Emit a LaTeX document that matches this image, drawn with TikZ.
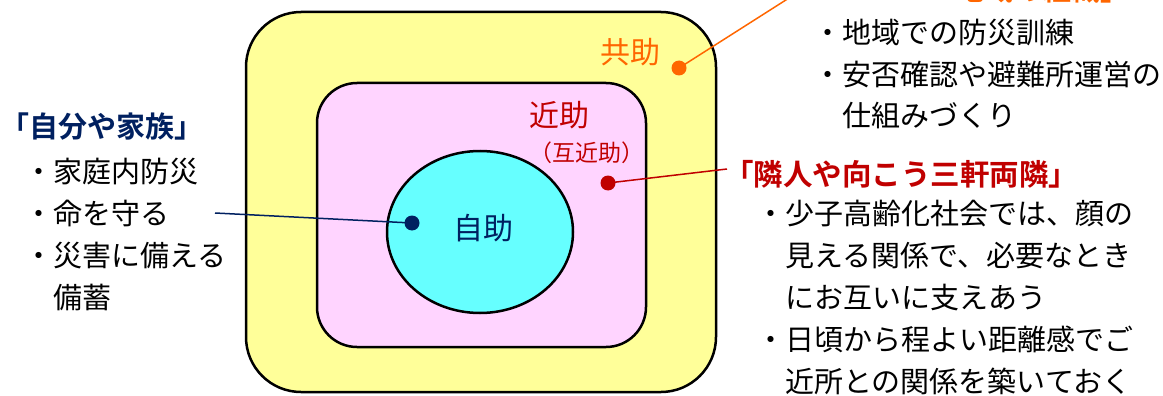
\documentclass[tikz,border=0pt]{standalone}
\usepackage{fontspec}
\setmainfont{Noto Sans CJK JP}[BoldFont={Noto Sans CJK JP Bold}]
\definecolor{kyoyellow}{RGB}{255,255,153}
\definecolor{kinpink}{RGB}{255,212,255}
\definecolor{jicyan}{RGB}{102,255,255}
\definecolor{jinavy}{RGB}{0,32,96}
\definecolor{kinred}{RGB}{192,0,0}
\definecolor{kyoorange}{RGB}{255,102,0}
\tikzset{
    txt/.style = {font=\fontsize{29}{42}\selectfont, inner sep=0pt, align=left, anchor=base west},
    head/.style = {txt, font=\bfseries\fontsize{29}{42}\selectfont},
    label/.style = {font=\fontsize{30}{36}\selectfont, inner sep=0pt},
    dot/.style = {circle, inner sep=0pt, minimum size=15pt},
}
\begin{document}
\begin{tikzpicture}[x = 1pt, y = -1pt]
    \useasboundingbox (0,0) rectangle (1163,396);
    % the three areas
    \draw [line width=2.5pt, fill=kyoyellow, rounded corners=55pt] (246,12) rectangle (716,392);
    \draw [line width=2.5pt, fill=kinpink, rounded corners=40pt] (317,83) rectangle (646,347);
    \draw [line width=2.5pt, fill=jicyan] (480,232) ellipse [x radius=93, y radius=81];
    \node[label, text=jinavy] (jijo) at (483,228) {自助};
    \node[label, text=kinred] (kinjo) at (559,115) {近助};
    \node[label, text=kinred, font=\fontsize{23}{28}\selectfont] (gokinjo) at (587,153) {（互近助）};
    \node[label, text=kyoorange] (kyojo) at (630,52) {共助};
    % dots
    \node[dot, fill=jinavy] (jidot) at (412,223) {};
    \node[dot, fill=kinred] (kindot) at (608,183) {};
    \node[dot, fill=kyoorange] (kyodot) at (679,68) {};
    % left text (base = last line)
    \node[head, text=jinavy] (jihead) at (0,137) {「自分や家族」};
    \node[txt] (jilist) at (24,308) {・家庭内防災\\・命を守る\\・災害に備える\\\hspace*{1em}備蓄};
    % top right text
    \node[head, text=kyoorange] (kyohead) at (926,1) {「地域の組織」};
    \node[txt] (kyolist) at (813,127) {・地域での防災訓練\\・安否確認や避難所運営の\\\hspace*{1em}仕組みづくり};
    % bottom right text
    \node[head, text=kinred, font=\bfseries\fontsize{29.5}{42}\selectfont] (kinhead) at (724,185) {「隣人や向こう三軒両隣」};
    \node[txt] (kinlist) at (756,392) {・少子高齢化社会では、顔の\\\hspace*{1em}見える関係で、必要なとき\\\hspace*{1em}にお互いに支えあう\\・日頃から程よい距離感でご\\\hspace*{1em}近所との関係を築いておく};
    % connectors
    \coordinate (jiend) at (215,213);
    \coordinate (kinend) at (727,169);
    \coordinate (kyoend) at (800,-9);
    \draw [line width=1.5pt, jinavy] (jidot.center) -- (jiend);
    \draw [line width=1.5pt, kinred] (kindot.center) -- (kinend);
    \draw [line width=1.5pt, kyoorange] (kyodot.center) -- (kyoend);
\end{tikzpicture}
\end{document}
